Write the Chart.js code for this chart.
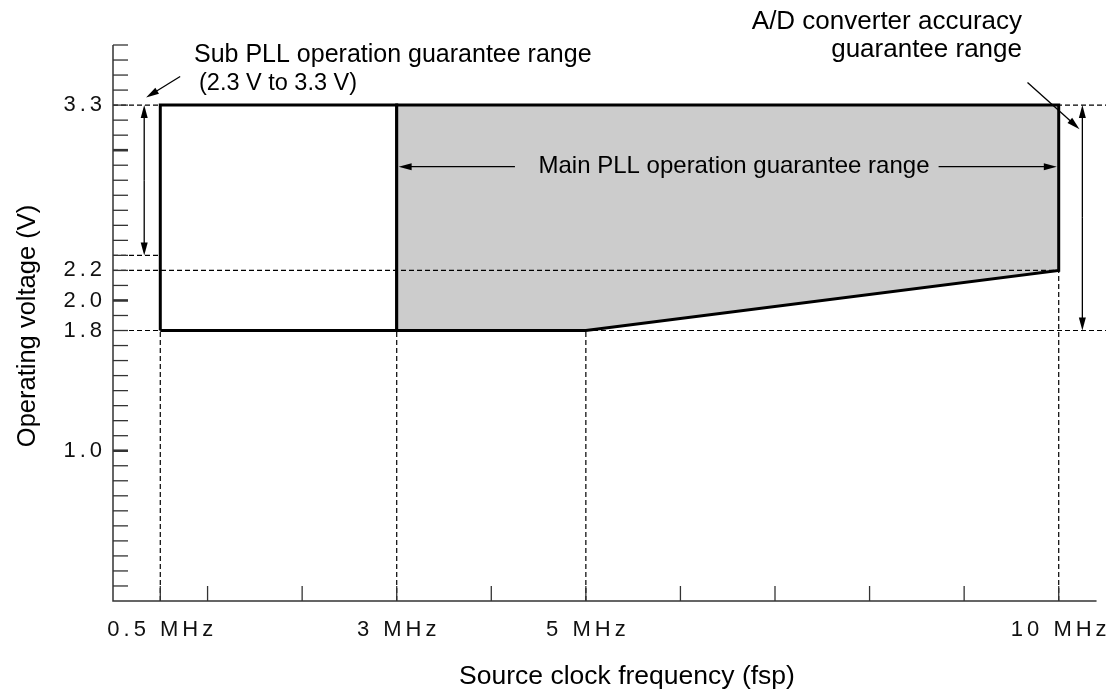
<!DOCTYPE html>
<html>
<head>
<meta charset="utf-8">
<script src="https://cdn.jsdelivr.net/npm/chart.js@4.4.1/dist/chart.umd.min.js"></script>
<style>
  body { margin: 0; background: #fff; }
  #wrap { width: 1111px; height: 690px; }
</style>
</head>
<body>
<div id="wrap"><canvas id="chart"></canvas></div>
<script>
// operating ranges (x = source clock position, v = operating voltage)
const subRangeX = [0.5, 3, 3, 0.5, 0.5];
const subRangeV = [1.8, 1.8, 3.3, 3.3, 1.8];
const mainRangeX = [3, 5, 10, 10, 3, 3];
const mainRangeV = [1.8, 1.8, 2.2, 3.3, 3.3, 1.8];

// dashed guide lines
const hGuideV = [3.3, 1.8, 2.2, 2.3];
const hGuideTo = [10.5, 10.5, 10, 0.5];
const vGuideX = [0.5, 3, 5, 10];
const vGuideTo = [3.3, 1.8, 1.8, 2.2];

// tick labels
const xTickVals = [0.5, 3, 5, 10];
const xTickLabels = ['0.5 MHz', '3 MHz', '5 MHz', '10 MHz'];
const yTickVals = [1.0, 1.8, 2.0, 2.2, 3.3];
const yTickLabels = ['1.0', '1.8', '2.0', '2.2', '3.3'];
const yMajorTicks = [1, 2, 3];

const FONT = '"Liberation Sans", Arial, Helvetica, sans-serif';

function pts(xs, vs) {
    return xs.map((x, i) => ({ x: x, y: vs[i] }));
}

// dashed guides go first so they sit on top of the filled ranges
const datasets = [];
hGuideV.forEach((v, i) => {
    datasets.push({ data: pts([0, hGuideTo[i]], [v, v]), borderColor: '#000', borderWidth: 1.2, borderDash: [5, 3], fill: false });
});
vGuideX.forEach((x, i) => {
    datasets.push({ data: pts([x, x], [0, vGuideTo[i]]), borderColor: '#000', borderWidth: 1.2, borderDash: [5, 3], fill: false });
});
datasets.push({ data: pts(mainRangeX, mainRangeV), borderColor: '#000', borderWidth: 3, backgroundColor: '#cccccc', fill: 'shape' });
datasets.push({ data: pts(subRangeX, subRangeV), borderColor: '#000', borderWidth: 3, backgroundColor: '#ffffff', fill: 'shape' });

function arrow(ctx, x1, y1, x2, y2) {
    const a = Math.atan2(y2 - y1, x2 - x1), L = 13, W = 3.5;
    ctx.beginPath();
    ctx.moveTo(x1, y1);
    ctx.lineTo(x2 - L * 0.7 * Math.cos(a), y2 - L * 0.7 * Math.sin(a));
    ctx.stroke();
    ctx.beginPath();
    ctx.moveTo(x2, y2);
    ctx.lineTo(x2 - L * Math.cos(a) + W * Math.sin(a), y2 - L * Math.sin(a) - W * Math.cos(a));
    ctx.lineTo(x2 - L * Math.cos(a) - W * Math.sin(a), y2 - L * Math.sin(a) + W * Math.cos(a));
    ctx.closePath();
    ctx.fill();
}

const decor = {
    id: 'decor',
    afterDatasetsDraw(chart) {
        const { ctx, scales: { x, y } } = chart;
        const px = v => x.getPixelForValue(v);
        const py = v => y.getPixelForValue(v);
        ctx.save();

        // axes
        ctx.strokeStyle = '#333';
        ctx.lineWidth = 1.5;
        ctx.beginPath();
        ctx.moveTo(px(0), py(3.7));
        ctx.lineTo(px(0), py(0));
        ctx.lineTo(px(10.4), py(0));
        ctx.stroke();

        // y ticks (inside)
        for (let i = 1; i <= 37; i++) {
            const v = i / 10;
            const major = yMajorTicks.indexOf(v) >= 0;
            ctx.lineWidth = major ? 2.6 : 1.3;
            ctx.beginPath();
            ctx.moveTo(px(0), py(v));
            ctx.lineTo(px(0) + 15, py(v));
            ctx.stroke();
        }
        // x ticks (inside)
        ctx.lineWidth = 1.3;
        [0.5, 1, 2, 3, 4, 5, 6, 7, 8, 9, 10].forEach(v => {
            ctx.beginPath();
            ctx.moveTo(px(v), py(0));
            ctx.lineTo(px(v), py(0) - 15);
            ctx.stroke();
        });

        // tick labels
        ctx.fillStyle = '#111';
        ctx.font = '22px ' + FONT;
        ctx.letterSpacing = '4px';
        ctx.textBaseline = 'middle';
        ctx.textAlign = 'right';
        yTickVals.forEach((v, i) => ctx.fillText(yTickLabels[i], px(0) - 7, py(v)));
        ctx.textAlign = 'center';
        xTickVals.forEach((v, i) => ctx.fillText(xTickLabels[i], px(v) + 2, py(0) + 29));
        ctx.letterSpacing = '0px';

        // axis titles
        ctx.fillStyle = '#000';
        ctx.font = '26.5px ' + FONT;
        ctx.fillText('Source clock frequency (fsp)', 627, 677);
        ctx.font = '25.5px ' + FONT;
        ctx.save();
        ctx.translate(28, 326);
        ctx.rotate(-Math.PI / 2);
        ctx.fillText('Operating voltage (V)', 0, 0);
        ctx.restore();

        // annotations
        ctx.textBaseline = 'alphabetic';
        ctx.textAlign = 'left';
        ctx.font = '25px ' + FONT;
        ctx.fillText('Sub PLL operation guarantee range', 194, 62);
        ctx.font = '23.5px ' + FONT;
        ctx.fillText('(2.3 V to 3.3 V)', 199, 90);

        ctx.textAlign = 'right';
        ctx.font = '26px ' + FONT;
        ctx.fillText('A/D converter accuracy', 1022, 29);
        ctx.fillText('guarantee range', 1022, 57);

        ctx.textAlign = 'center';
        ctx.textBaseline = 'middle';
        ctx.font = '24px ' + FONT;
        ctx.fillText('Main PLL operation guarantee range', 734, 166);

        ctx.strokeStyle = '#000';
        ctx.fillStyle = '#000';
        ctx.lineWidth = 1.3;
        // double arrows
        arrow(ctx, px(0.33), py(2.8), px(0.33), py(3.3));
        arrow(ctx, px(0.33), py(2.8), px(0.33), py(2.3));
        arrow(ctx, px(10.25), py(2.55), px(10.25), py(3.3));
        arrow(ctx, px(10.25), py(2.55), px(10.25), py(1.8));
        // main range arrows
        arrow(ctx, px(4.25), py(2.89), px(3.02), py(2.89));
        arrow(ctx, px(8.73), py(2.89), px(9.98), py(2.89));
        // leaders
        arrow(ctx, px(0.71), py(3.49), px(0.35), py(3.35));
        arrow(ctx, px(9.67), py(3.45), px(10.22), py(3.14));

        ctx.restore();
    }
};

new Chart(document.getElementById('chart'), {
    type: 'scatter',
    data: { datasets: datasets },
    options: {
        responsive: true,
        maintainAspectRatio: false,
        animation: false,
        showLine: true,
        elements: { point: { radius: 0, hoverRadius: 0 }, line: { tension: 0 } },
        layout: { padding: { left: 113, right: 5, top: 45, bottom: 89 } },
        plugins: { legend: { display: false }, tooltip: { enabled: false } },
        scales: {
            x: { type: 'linear', min: 0, max: 10.5, display: false },
            y: { type: 'linear', min: 0, max: 3.7, display: false }
        }
    },
    plugins: [decor]
});
</script>
</body>
</html>
